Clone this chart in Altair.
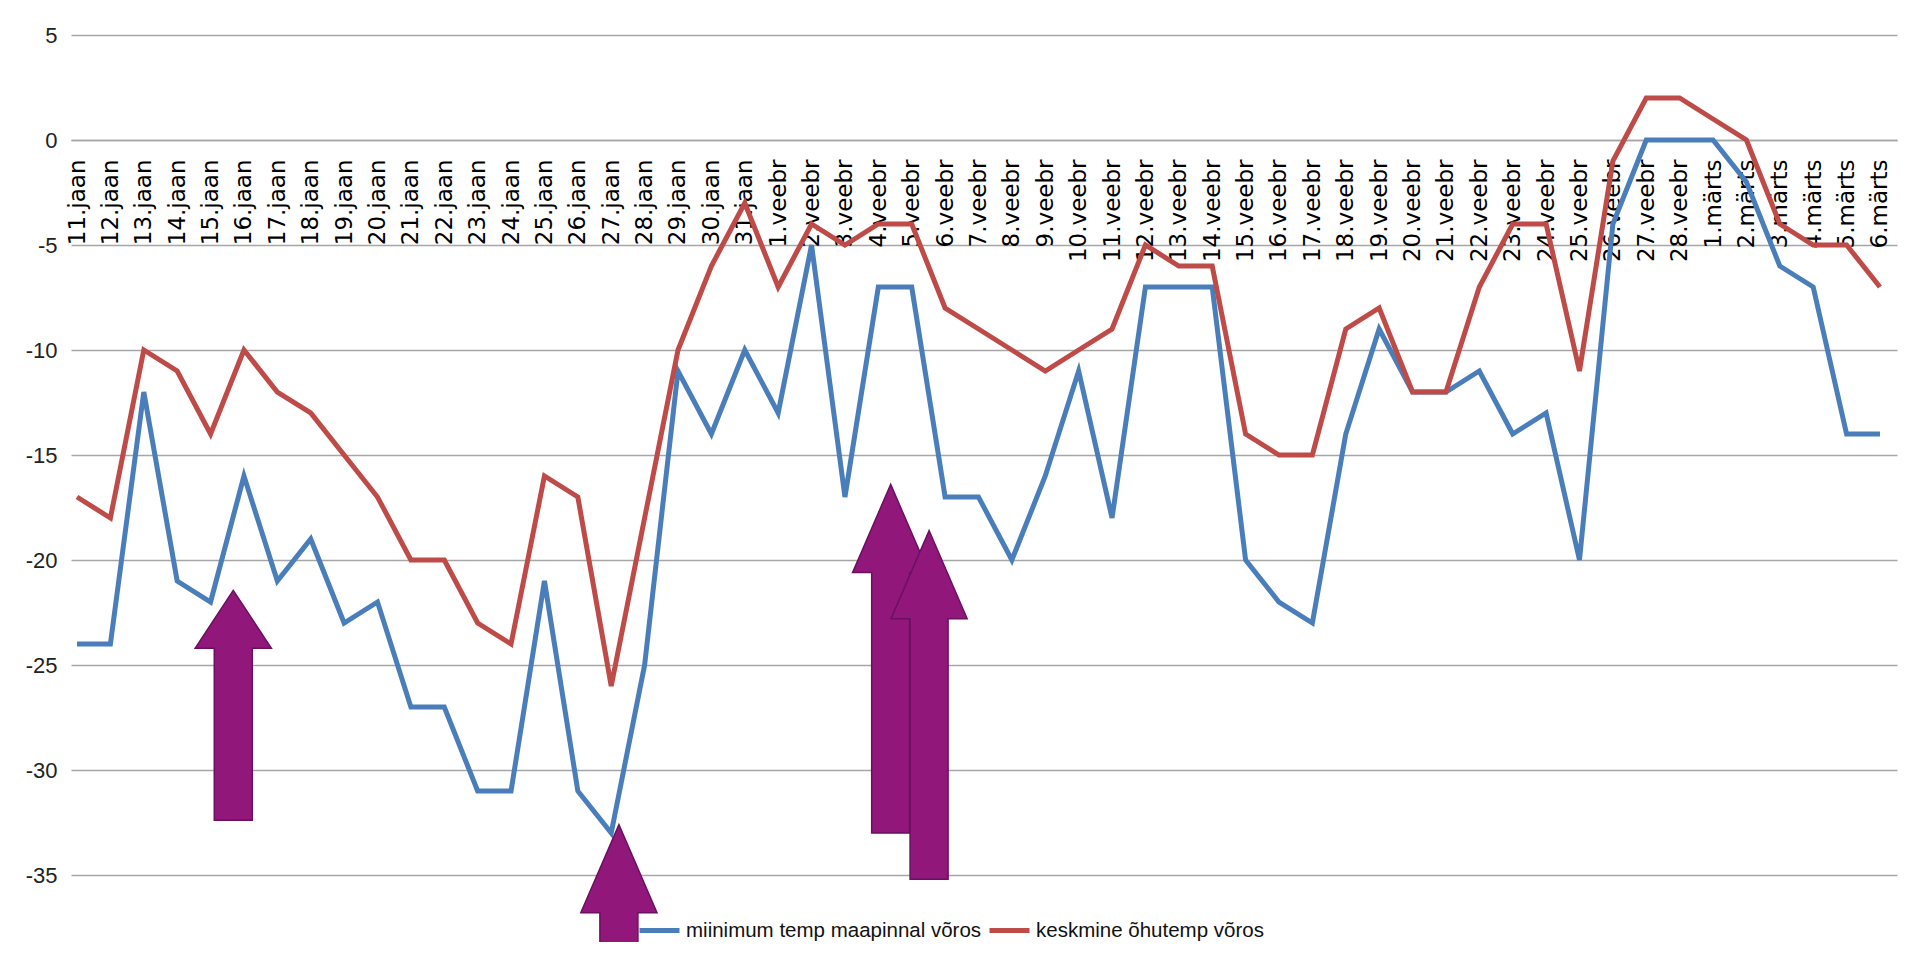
import json
import altair as alt
import pandas as pd

categories = [
    "11.jaan", "12.jaan", "13.jaan", "14.jaan", "15.jaan", "16.jaan", "17.jaan",
    "18.jaan", "19.jaan", "20.jaan", "21.jaan", "22.jaan", "23.jaan", "24.jaan",
    "25.jaan", "26.jaan", "27.jaan", "28.jaan", "29.jaan", "30.jaan", "31.jaan",
    "1.veebr", "2.veebr", "3.veebr", "4.veebr", "5.veebr", "6.veebr", "7.veebr",
    "8.veebr", "9.veebr", "10.veebr", "11.veebr", "12.veebr", "13.veebr", "14.veebr",
    "15.veebr", "16.veebr", "17.veebr", "18.veebr", "19.veebr", "20.veebr", "21.veebr",
    "22.veebr", "23.veebr", "24.veebr", "25.veebr", "26.veebr", "27.veebr", "28.veebr",
    "1.märts", "2.märts", "3.märts", "4.märts", "5.märts", "6.märts",
]

series_names = ["miinimum temp maapinnal võros", "keskmine õhutemp võros"]

min_ground = [
    -24, -24, -12, -21, -22, -16, -21, -19, -23, -22, -27, -27, -31, -31, -21, -31, -33, -25, -11, -14, -10,
    -13, -5, -17, -7, -7, -17, -17, -20, -16, -11, -18, -7, -7, -7, -20, -22, -23, -14, -9, -12, -12,
    -11, -14, -13, -20, -4, 0, 0,
    0, -2, -6, -7, -14, -14,
]

mean_air = [
    -17, -18, -10, -11, -14, -10, -12, -13, -15, -17, -20, -20, -23, -24, -16, -17, -26, -18, -10, -6, -3,
    -7, -4, -5, -4, -4, -8, -9, -10, -11, -10, -9, -5, -6, -6, -14, -15, -15, -9, -8, -12, -12,
    -7, -4, -4, -11, -1, 2, 2,
    1, 0, -4, -5, -5, -7,
]

y_ticks = [-35, -30, -25, -20, -15, -10, -5, 0, 5]

# annotation arrows: centre (category index), tip value, head-base value, bottom value
arrow_center = [4.68, 16.23, 24.37, 25.52]
arrow_tip = [-21.45, -32.6, -16.4, -18.6]
arrow_base = [-24.2, -36.8, -20.6, -22.8]
arrow_bottom = [-32.4, -39.5, -33.0, -35.2]

# ---------------------------------------------------------------- layout
YMIN, YMAX = -37.5, 5
XMIN, XMAX = -0.18, len(categories) - 1 + 0.51
PX_PER_UNIT = 21
PLOT_W = 1826
PLOT_H = (YMAX - YMIN) * PX_PER_UNIT
PX_PER_IDX = PLOT_W / (XMAX - XMIN)
HEAD_HW = 1.14
SHAFT_HW = 0.57

rows = []
for name, vals in zip(series_names, [min_ground, mean_air]):
    for i, (c, v) in enumerate(zip(categories, vals)):
        rows.append({"idx": i, "date": c, "value": v, "series": name})
lines_df = pd.DataFrame(rows)

arows = []
for a, (cx, tip, base, bot) in enumerate(zip(arrow_center, arrow_tip, arrow_base, arrow_bottom)):
    hh = (tip - base) * PX_PER_UNIT
    ln = (tip - bot) * PX_PER_UNIT
    hw = HEAD_HW * PX_PER_IDX
    sw = SHAFT_HW * PX_PER_IDX
    path = (
        f"M0,0 L{hw:.1f},{hh:.1f} L{sw:.1f},{hh:.1f} L{sw:.1f},{ln:.1f} "
        f"L{-sw:.1f},{ln:.1f} L{-sw:.1f},{hh:.1f} L{-hw:.1f},{hh:.1f} Z"
    )
    arows.append({"arrow": a, "cx": cx, "tip": tip, "path": path})
arrows_df = pd.DataFrame(arows)

x_scale = alt.Scale(domain=[XMIN, XMAX], nice=False, zero=False)
y_scale = alt.Scale(domain=[YMIN, YMAX], nice=False, zero=False)

label_expr = json.dumps(categories, ensure_ascii=False) + "[datum.value]"

x_axis = alt.Axis(
    values=list(range(len(categories))),
    labelExpr=label_expr,
    labelAngle=270,
    labelFont="DejaVu Sans",
    labelFontSize=23,
    labelColor="#000000",
    labelPadding=19,
    labelOverlap=False,
    labelFlush=False,
    labelBound=False,
    ticks=False,
    grid=False,
    domainColor="#a6a6a6",
    domainWidth=1.5,
    offset=-(PLOT_H - YMAX * PX_PER_UNIT),
    title=None,
)

lab_font = "Liberation Sans, Arial, sans-serif"

y_axis = alt.Axis(
    values=y_ticks,
    labelExpr="datum.value < 0 ? '-' + abs(datum.value) : '' + datum.value",
    labelFont=lab_font,
    labelFontSize=22,
    labelColor="#222222",
    labelPadding=14,
    labelOverlap=False,
    ticks=False,
    domain=False,
    grid=True,
    gridColor="#a6a6a6",
    gridWidth=1.5,
    title=None,
)

lines = alt.Chart(lines_df).mark_line(strokeWidth=5).encode(
    x=alt.X("idx:Q", scale=x_scale, axis=x_axis),
    y=alt.Y("value:Q", scale=y_scale, axis=y_axis),
    color=alt.Color(
        "series:N",
        scale=alt.Scale(domain=series_names, range=["#4a7ebb", "#be4b48"]),
        sort=series_names,
        legend=alt.Legend(
            title=None,
            orient="none",
            legendX=566,
            legendY=873,
            direction="horizontal",
            symbolType="stroke",
            symbolSize=1600,
            symbolStrokeWidth=5,
            labelFont=lab_font,
            labelFontSize=20.5,
            labelColor="#111111",
            labelOffset=4,
            columnPadding=-3,
            labelLimit=0,
        ),
    ),
)

arrows = alt.Chart(arrows_df).mark_point(
    filled=True, fill="#92177a", stroke="#6b1060", strokeWidth=1.5, opacity=1, size=4
).encode(
    x=alt.X("cx:Q", scale=x_scale, axis=x_axis),
    y=alt.Y("tip:Q", scale=y_scale, axis=y_axis),
    shape=alt.Shape("path:N", scale=None, legend=None),
    order=alt.Order("arrow:Q"),
)

chart = alt.layer(lines, arrows).properties(
    width=PLOT_W,
    height=PLOT_H,
    autosize=alt.AutoSizeParams(type="none"),
    padding={"left": 63, "top": 27, "right": 8, "bottom": 14.5},
    background="#ffffff",
).configure_view(stroke=None).configure_axis(labelOverlap=False)

chart.save("out.html", embed_options={"renderer": "svg", "actions": False})
